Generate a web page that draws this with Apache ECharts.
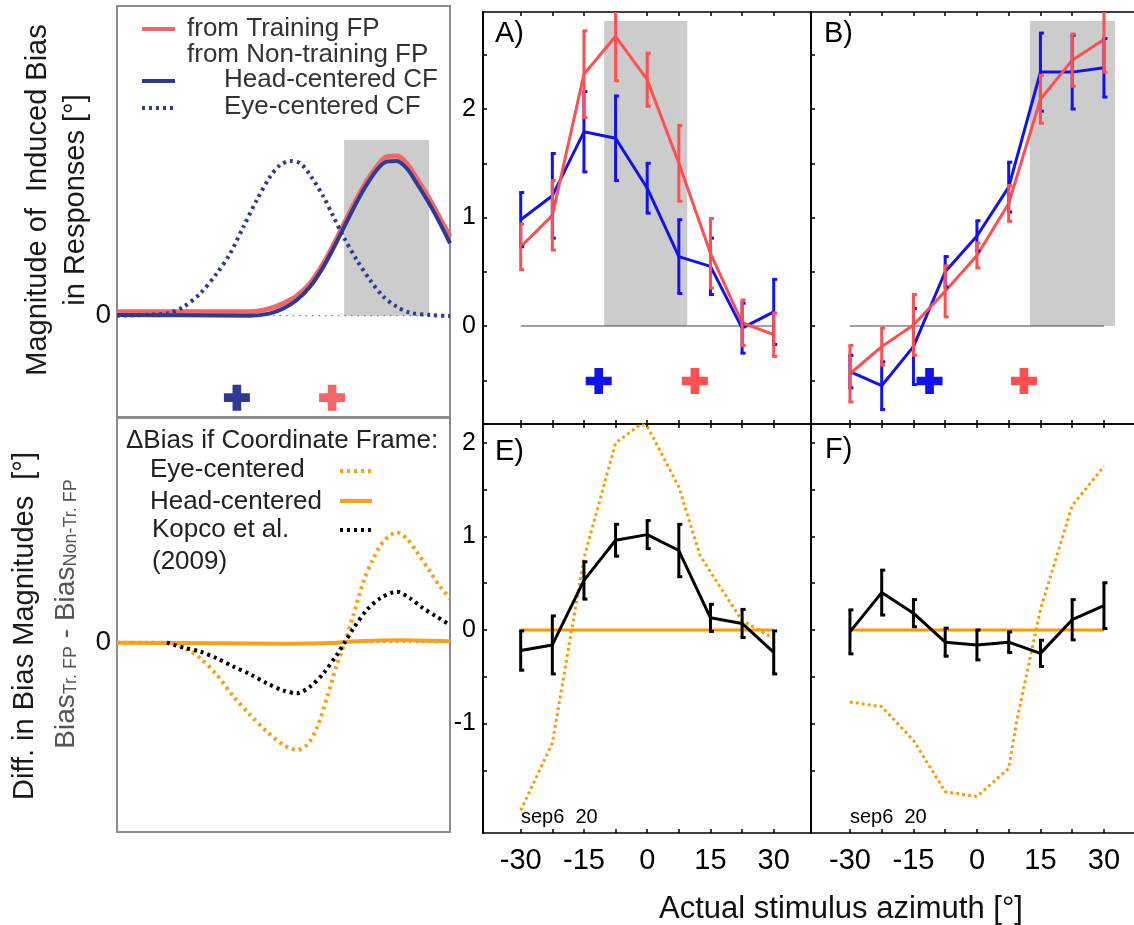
<!DOCTYPE html>
<html>
<head>
<meta charset="utf-8">
<title>Induced bias by coordinate frame</title>
<script src="https://cdn.jsdelivr.net/npm/echarts@6/dist/echarts.min.js"></script>
<style>
  html, body { margin: 0; padding: 0; background: #fff; }
  #chart { width: 1134px; height: 925px; }
</style>
</head>
<body>
<div id="chart"></div>
<script>
// ---- model panels (left column), position in arbitrary units 0..100 ----
const modelX = [0, 20, 40, 46, 50, 54, 58, 62, 66, 70, 74, 78, 81, 84, 87, 90, 94, 97, 100]
const trainingFP = [0.026, 0.026, 0.026, 0.047, 0.080, 0.129, 0.209, 0.338, 0.500, 0.672, 0.834, 0.963, 1.028, 1.032, 0.985, 0.888, 0.748, 0.629, 0.511]
const headCF = [0.004, 0.002, 0.0, 0.015, 0.047, 0.101, 0.188, 0.317, 0.478, 0.651, 0.812, 0.942, 0.996, 1.0, 0.953, 0.856, 0.716, 0.597, 0.468]
const eyeX = [0, 15, 20, 25, 30, 34, 38, 42, 46, 49, 52, 55, 58, 62, 65, 68, 72, 76, 80, 84, 88, 94, 100]
const eyeCF = [0, 0.015, 0.058, 0.144, 0.274, 0.403, 0.576, 0.749, 0.899, 0.974, 1.0, 0.985, 0.909, 0.769, 0.640, 0.511, 0.360, 0.230, 0.123, 0.058, 0.019, 0.004, -0.002]
const modelShade = [68.2, 93.7, 0, 1.136]
const modelPlusX = [36.0, 64.6]
const modelPlusY = -0.53

const diffEyeX = [0, 15, 18, 21, 25, 30, 35, 40, 45, 50, 54, 57, 60, 63, 66, 68.5, 71, 74, 77, 80, 84, 87, 90, 94, 97, 100]
const diffEye = [0, 0, -0.02, -0.06, -0.141, -0.291, -0.486, -0.652, -0.802, -0.922, -0.967, -0.922, -0.772, -0.502, -0.201, 0.009, 0.249, 0.550, 0.760, 0.910, 0.994, 0.940, 0.820, 0.640, 0.505, 0.399]
const kopcoX = [15, 20, 25, 30, 35, 40, 45, 50, 54, 58, 62, 66, 68.5, 71, 75, 79, 84, 88, 92, 96, 100]
const kopco = [0, -0.045, -0.081, -0.141, -0.216, -0.285, -0.366, -0.432, -0.456, -0.396, -0.276, -0.111, 0.009, 0.129, 0.294, 0.399, 0.459, 0.399, 0.309, 0.234, 0.159]
const diffHeadX = [0, 30, 50, 65, 70, 80, 85, 100]
const diffHead = [0, -0.006, -0.01, -0.004, 0.01, 0.02, 0.021, 0.012]

// ---- measured data (right columns) ----
const azimuth = [-30, -22.5, -15, -7.5, 0, 7.5, 15, 22.5, 30]
const aBlue = [0.98, 1.20, 1.79, 1.73, 1.27, 0.64, 0.55, -0.02, 0.13]
const aBlueErr = [0.25, 0.39, 0.37, 0.39, 0.23, 0.34, 0.26, 0.23, 0.30]
const aRed = [0.73, 1.02, 2.32, 2.67, 2.27, 1.50, 0.67, 0.03, -0.08]
const aRedErr = [0.21, 0.32, 0.40, 0.41, 0.245, 0.35, 0.32, 0.21, 0.20]
const bBlue = [-0.42, -0.55, -0.19, 0.50, 0.83, 1.28, 2.34, 2.34, 2.38]
const bBlueErr = [0.15, 0.22, 0.35, 0.14, 0.14, 0.23, 0.36, 0.34, 0.27]
const bRed = [-0.44, -0.19, 0.01, 0.32, 0.65, 1.13, 2.09, 2.45, 2.64]
const bRedErr = [0.26, 0.17, 0.28, 0.235, 0.115, 0.165, 0.22, 0.24, 0.30]
const aShade = [-10.2, 9.5, 0, 2.81]
const bShade = [12.5, 32.6, 0, 2.81]
const aPlusX = [-11.5, 11.3]
const bPlusX = [-11.2, 11.1]
const plusY = -0.507

const eDiff = [-0.22, -0.16, 0.53, 0.96, 1.02, 0.85, 0.13, 0.07, -0.24]
const eDiffErr = [0.21, 0.31, 0.20, 0.17, 0.15, 0.28, 0.145, 0.15, 0.23]
const fDiff = [-0.02, 0.40, 0.18, -0.13, -0.16, -0.13, -0.25, 0.11, 0.26]
const fDiffErr = [0.235, 0.24, 0.145, 0.15, 0.16, 0.11, 0.14, 0.215, 0.245]
const eEyeX = [-30, -22.5, -15, -7.5, -1.5, 0, 7.5, 12.5, 15, 22.5, 30]
const eEye = [-1.93, -1.21, 0.77, 2.0, 2.20, 2.18, 1.53, 0.80, 0.62, 0.10, -0.09]
const fEyeX = [-30, -22.5, -15, -7.5, 0, 7.5, 9.5, 15, 22.5, 30]
const fEye = [-0.77, -0.82, -1.18, -1.73, -1.78, -1.48, -0.95, 0.22, 1.33, 1.75]

const yTicksTop = [-0.5, 0, 0.5, 1, 1.5, 2, 2.5]
const yLabelsTop = [0, 1, 2]
const yTicksBottom = [-1.5, -1, -0.5, 0, 0.5, 1, 1.5, 2]
const yLabelsBottom = [-1, 0, 1, 2]
const xLabels = [-30, -15, 0, 15, 30]

const FONT = '"Liberation Sans", Arial, Helvetica, sans-serif'
const RED = '#ff4f4f'
const BLUE = '#1212f0'
const NAVY = '#2d3b94'
const SALMON = '#f26666'
const ORANGE = '#f8a01a'
const PLUS = 'path://M8,0H16V8H24V16H16V24H8V16H0V8H8Z'

// x ranges of the right-hand panels (B/F run off the right edge of the figure)
const leftRange = [-38.94, 38.84]
const rightRange = [-39.2, 37.1]

function pairs(xs, ys) {
  return xs.map((x, i) => [x, ys[i]])
}

function bars(xs, ys, es) {
  return xs.map((x, i) => [x, ys[i] - es[i], ys[i] + es[i]])
}

function line(xi, yi, data, color, width, type, z, smooth) {
  return {
    type: 'line',
    xAxisIndex: xi,
    yAxisIndex: yi,
    data: data,
    symbol: 'none',
    smooth: smooth ? 0.3 : false,
    z: z,
    silent: true,
    lineStyle: { color: color, width: width, type: type || 'solid', cap: 'butt', opacity: 1 }
  }
}

function errorBars(xi, yi, data, color) {
  return {
    type: 'custom',
    xAxisIndex: xi,
    yAxisIndex: yi,
    data: data,
    z: 6,
    clip: true,
    silent: true,
    renderItem(params, api) {
      const x = api.value(0)
      const top = api.coord([x, api.value(2)])
      const bot = api.coord([x, api.value(1)])
      const st = { stroke: color, lineWidth: 3, fill: null }
      return {
        type: 'group',
        children: [
          { type: 'line', shape: { x1: top[0], y1: top[1], x2: bot[0], y2: bot[1] }, style: st },
          { type: 'line', shape: { x1: top[0] - 1.5, y1: top[1], x2: top[0] + 3.5, y2: top[1] }, style: st },
          { type: 'line', shape: { x1: bot[0] - 1.5, y1: bot[1], x2: bot[0] + 3.5, y2: bot[1] }, style: st }
        ]
      }
    }
  }
}

function shade(xi, yi, box) {
  return {
    type: 'custom',
    xAxisIndex: xi,
    yAxisIndex: yi,
    data: [box],
    z: 1,
    silent: true,
    renderItem(params, api) {
      const a = api.coord([api.value(0), api.value(3)])
      const b = api.coord([api.value(1), api.value(2)])
      return {
        type: 'rect',
        shape: { x: a[0], y: a[1], width: b[0] - a[0], height: b[1] - a[1] },
        style: { fill: '#cccccc' }
      }
    }
  }
}

function plus(xi, yi, x, y, color) {
  return {
    type: 'scatter',
    xAxisIndex: xi,
    yAxisIndex: yi,
    data: [[x, y]],
    symbol: PLUS,
    symbolSize: 26,
    z: 7,
    silent: true,
    itemStyle: { color: color, opacity: 1 }
  }
}

// axes
const hidden = { show: false }
function modelAxisX(grid) {
  return { type: 'value', gridIndex: grid, min: 0, max: 100, show: false }
}
function dataX(grid, pos, range, labels) {
  return {
    type: 'value', gridIndex: grid, position: pos, min: range[0], max: range[1],
    axisLine: { show: true, onZero: false, lineStyle: { color: '#000', width: 1.5 } },
    axisTick: { show: true, inside: true, length: 4, customValues: azimuth, lineStyle: { color: '#000', width: 1.5 } },
    axisLabel: labels
      ? { show: true, customValues: xLabels, fontSize: 29, color: '#000', margin: 13, fontFamily: FONT }
      : { show: false },
    splitLine: hidden
  }
}
function dataY(grid, min, max, ticks, labels) {
  return {
    type: 'value', gridIndex: grid, min: min, max: max,
    axisLine: { show: true, onZero: false, lineStyle: { color: '#000', width: 2 } },
    axisTick: { show: true, inside: true, length: 4, customValues: ticks, lineStyle: { color: '#000', width: 1.5 } },
    axisLabel: labels
      ? { show: true, customValues: labels, fontSize: 25, color: '#000', margin: 7, fontFamily: FONT }
      : { show: false },
    splitLine: hidden
  }
}
function modelY(grid, min, max) {
  return {
    type: 'value', gridIndex: grid, min: min, max: max,
    axisLine: hidden, axisTick: hidden, splitLine: hidden,
    axisLabel: { show: true, customValues: [0], fontSize: 28, color: '#111', margin: 6, fontFamily: FONT }
  }
}

function txt(x, y, text, size, color) {
  return {
    type: 'text', x: x, y: y, silent: true,
    style: { text: text, font: size + 'px ' + FONT, fill: color, align: 'left', verticalAlign: 'middle', textAlign: 'left', textVerticalAlign: 'middle' }
  }
}
function vtxt(x, y, text, size, color) {
  return {
    type: 'text', x: x, y: y, rotation: Math.PI / 2, silent: true,
    style: { text: text, font: size + 'px ' + FONT, fill: color, align: 'center', verticalAlign: 'middle', textAlign: 'center', textVerticalAlign: 'middle' }
  }
}
function legLine(x1, x2, y, color, width, dash) {
  return {
    type: 'line', silent: true,
    shape: { x1: x1, y1: y, x2: x2, y2: y },
    style: { stroke: color, lineWidth: width, lineDash: dash || null }
  }
}

const DOT = [3, 4]

const option = {
  animation: false,
  backgroundColor: '#fff',
  grid: [
    { left: 117, top: 6, width: 333, height: 411, show: true, borderColor: '#8c8c8c', borderWidth: 2, backgroundColor: 'transparent' },
    { left: 117, top: 418, width: 333, height: 414, show: true, borderColor: '#8c8c8c', borderWidth: 2, backgroundColor: 'transparent' },
    { left: 483, top: 12, width: 328, height: 412 },
    { left: 811, top: 12, width: 323, height: 412 },
    { left: 483, top: 424, width: 328, height: 409 },
    { left: 811, top: 424, width: 323, height: 409 }
  ],
  xAxis: [
    modelAxisX(0),
    modelAxisX(1),
    dataX(2, 'bottom', leftRange, false),
    dataX(2, 'top', leftRange, false),
    dataX(3, 'bottom', rightRange, false),
    dataX(3, 'top', rightRange, false),
    dataX(4, 'bottom', leftRange, true),
    dataX(4, 'top', leftRange, false),
    dataX(5, 'bottom', rightRange, true),
    dataX(5, 'top', rightRange, false)
  ],
  yAxis: [
    modelY(0, -0.655, 2.002),
    modelY(1, -1.706, 2.024),
    dataY(2, -0.903, 2.894, yTicksTop, yLabelsTop),
    dataY(3, -0.903, 2.894, yTicksTop, null),
    dataY(4, -2.171, 2.203, yTicksBottom, yLabelsBottom),
    dataY(5, -2.171, 2.203, yTicksBottom, null)
  ],
  series: [
    // top-left model
    shade(0, 0, modelShade),
    line(0, 0, [[0, 0], [100, 0]], '#6f7fb8', 1.2, [1.5, 5], 2, false),
    line(0, 0, pairs(modelX, trainingFP), SALMON, 5, 'solid', 3, true),
    line(0, 0, pairs(modelX, headCF), NAVY, 4, 'solid', 4, true),
    line(0, 0, pairs(eyeX, eyeCF), NAVY, 4, DOT, 5, true),
    plus(0, 0, modelPlusX[0], modelPlusY, NAVY),
    plus(0, 0, modelPlusX[1], modelPlusY, SALMON),
    // bottom-left model
    line(1, 1, [[0, 0], [100, 0]], '#6f7fb8', 1.2, [1.5, 5], 2, false),
    line(1, 1, pairs(diffHeadX, diffHead), ORANGE, 4, 'solid', 3, true),
    line(1, 1, pairs(diffEyeX, diffEye), ORANGE, 4, DOT, 4, true),
    line(1, 1, pairs(kopcoX, kopco), '#000', 4, DOT, 5, true),
    // A
    shade(2, 2, aShade),
    line(2, 2, [[-30, 0], [30, 0]], '#444', 1, 'solid', 2, false),
    line(2, 2, pairs(azimuth, aBlue), BLUE, 3, 'solid', 3, false),
    errorBars(2, 2, bars(azimuth, aBlue, aBlueErr), BLUE),
    line(2, 2, pairs(azimuth, aRed), RED, 3, 'solid', 4, false),
    errorBars(2, 2, bars(azimuth, aRed, aRedErr), RED),
    plus(2, 2, aPlusX[0], plusY, BLUE),
    plus(2, 2, aPlusX[1], plusY, RED),
    // B
    shade(4, 3, bShade),
    line(4, 3, [[-30, 0], [30, 0]], '#444', 1, 'solid', 2, false),
    line(4, 3, pairs(azimuth, bBlue), BLUE, 3, 'solid', 3, false),
    errorBars(4, 3, bars(azimuth, bBlue, bBlueErr), BLUE),
    line(4, 3, pairs(azimuth, bRed), RED, 3, 'solid', 4, false),
    errorBars(4, 3, bars(azimuth, bRed, bRedErr), RED),
    plus(4, 3, bPlusX[0], plusY, BLUE),
    plus(4, 3, bPlusX[1], plusY, RED),
    // E
    line(6, 4, [[-30, 0], [30, 0]], '#ff9900', 3, 'solid', 2, false),
    line(6, 4, pairs(eEyeX, eEye), '#ff9900', 3, [2.8, 3.2], 3, false),
    line(6, 4, pairs(azimuth, eDiff), '#000', 3, 'solid', 4, false),
    errorBars(6, 4, bars(azimuth, eDiff, eDiffErr), '#000'),
    // F
    line(8, 5, [[-30, 0], [30, 0]], '#ff9900', 3, 'solid', 2, false),
    line(8, 5, pairs(fEyeX, fEye), '#ff9900', 3, [2.8, 3.2], 3, false),
    line(8, 5, pairs(azimuth, fDiff), '#000', 3, 'solid', 4, false),
    errorBars(8, 5, bars(azimuth, fDiff, fDiffErr), '#000')
  ],
  graphic: [
    // left axis titles
    vtxt(38, 200, 'Magnitude of  Induced Bias', 29, '#1a1a1a'),
    vtxt(76, 200, 'in Responses [°]', 29, '#1a1a1a'),
    vtxt(25, 626, 'Diff. in Bias Magnitudes  [°]', 29, '#1a1a1a'),
    {
      type: 'text', x: 66, y: 614, rotation: Math.PI / 2, silent: true,
      style: {
        text: '{b|Bias}{s|Tr. FP}{b| - Bias}{s|Non-Tr. FP}',
        fill: '#555', align: 'center', verticalAlign: 'middle', textAlign: 'center', textVerticalAlign: 'middle',
        rich: {
          b: { fontSize: 28, fontFamily: FONT, lineHeight: 28, verticalAlign: 'top', fill: '#555', color: '#555' },
          s: { fontSize: 18, fontFamily: FONT, lineHeight: 18, verticalAlign: 'bottom', padding: [15, 0, 0, 0], fill: '#555', color: '#555' }
        }
      }
    },
    // top-left legend
    legLine(142, 175, 29, SALMON, 4),
    txt(187, 29, 'from Training FP', 26, '#333'),
    txt(187, 55, 'from Non-training FP', 26, '#333'),
    legLine(142, 175, 81, NAVY, 4),
    txt(224, 80, 'Head-centered CF', 26, '#333'),
    legLine(142, 175, 108, NAVY, 4, DOT),
    txt(224, 107, 'Eye-centered CF', 26, '#333'),
    // bottom-left legend
    txt(126, 441, 'ΔBias if Coordinate Frame:', 26, '#222'),
    txt(150, 470, 'Eye-centered', 26, '#222'),
    legLine(340, 372, 471, ORANGE, 4, DOT),
    txt(150, 502, 'Head-centered', 26, '#222'),
    legLine(340, 372, 501, ORANGE, 4),
    txt(152, 530, 'Kopco et al.', 26, '#222'),
    legLine(340, 372, 530, '#000', 4, DOT),
    txt(152, 562, '(2009)', 26, '#222'),
    // panel letters
    txt(495, 34, 'A)', 29, '#000'),
    txt(824, 34, 'B)', 29, '#000'),
    txt(495, 452, 'E)', 29, '#000'),
    txt(825, 450, 'F)', 29, '#000'),
    txt(521, 817, 'sep6  20', 20, '#000'),
    txt(850, 817, 'sep6  20', 20, '#000'),
    // x axis title
    {
      type: 'text', x: 841, y: 909, silent: true,
      style: { text: 'Actual stimulus azimuth [°]', font: '31px ' + FONT, fill: '#111', align: 'center', verticalAlign: 'middle', textAlign: 'center', textVerticalAlign: 'middle' }
    }
  ]
}

const chart = echarts.init(document.getElementById('chart'))
chart.setOption(option)
window.addEventListener('resize', () => chart.resize())
</script>
</body>
</html>
